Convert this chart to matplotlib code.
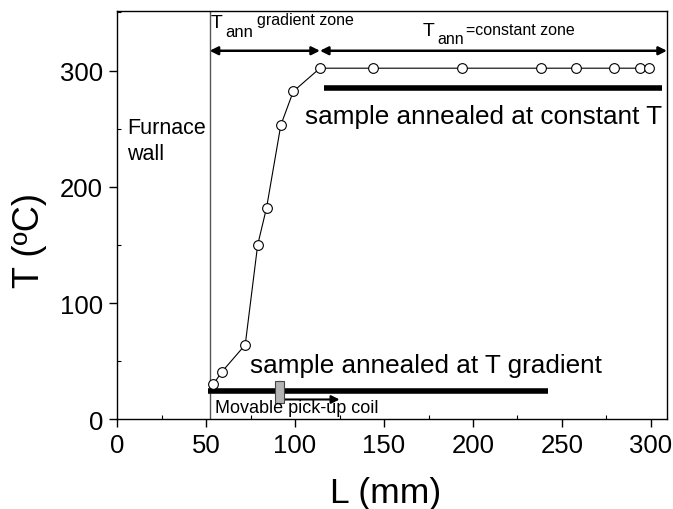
import matplotlib
matplotlib.use("Agg")
import matplotlib.pyplot as plt
from matplotlib.patches import Rectangle
from matplotlib.ticker import MultipleLocator

plt.rcParams['font.family'] = ['Liberation Sans', 'DejaVu Sans']

# temperature profile along the furnace
L_mm = [54, 59, 72, 79, 84, 92, 99, 114, 144, 194, 238, 258, 279, 294, 299]
T_c = [30, 41, 64, 150, 182, 253, 282, 302, 302, 302, 302, 302, 302, 302, 302]

# positions of annotations (mm, degC)
wall_L = 52
zone_split_L = 114
zone_end_L = 309
zone_T = 317
bar_const = (116, 306, 285)
bar_grad = (51, 242, 24)
coil = (89, 94, 14, 33)

W, H = 673, 510
fig = plt.figure(figsize=(W / 100, H / 100), dpi=100)
ax = fig.add_axes([0.174, 0.176, 0.817, 0.800])


def px(x, y):
    # figure fraction from pixel position (top-left origin)
    return x / W, 1 - y / H


ax.plot(L_mm, T_c, color='black', lw=0.8, marker='o', ms=7,
        mfc='white', mec='black', mew=0.8, zorder=3)

# furnace wall
ax.axvline(wall_L, color='#555555', lw=1.0)

# zone arrows
ax.annotate('', xy=(wall_L, zone_T), xytext=(zone_split_L, zone_T),
            arrowprops=dict(arrowstyle='<|-|>', color='black', lw=1.8,
                            mutation_scale=12, shrinkA=0, shrinkB=0))
ax.annotate('', xy=(zone_split_L, zone_T), xytext=(zone_end_L, zone_T),
            arrowprops=dict(arrowstyle='<|-|>', color='black', lw=1.8,
                            mutation_scale=12, shrinkA=0, shrinkB=0),
            annotation_clip=False)

# samples
ax.plot(bar_const[:2], [bar_const[2]] * 2, color='black', lw=4, solid_capstyle='butt')
ax.plot(bar_grad[:2], [bar_grad[2]] * 2, color='black', lw=4, solid_capstyle='butt')

# pick-up coil
ax.add_patch(Rectangle((coil[0], coil[2]), coil[1] - coil[0], coil[3] - coil[2],
                       facecolor='#b4b4b4', edgecolor='#444444', lw=0.8, zorder=4))
ax.annotate('', xy=(125, 17), xytext=(coil[1], 17),
            arrowprops=dict(arrowstyle='-|>', color='black', lw=1.5,
                            mutation_scale=12, shrinkA=0, shrinkB=0))

# zone labels, pieced together
fig.text(*px(211, 28), 'T', fontsize=14, va='baseline', ha='left')
fig.text(*px(225, 37), 'ann', fontsize=12, va='baseline', ha='left')
fig.text(*px(257, 25), 'gradient zone', fontsize=11.5, va='baseline', ha='left')
fig.text(*px(423, 36), 'T', fontsize=14, va='baseline', ha='left')
fig.text(*px(437, 44), 'ann', fontsize=11.5, va='baseline', ha='left')
fig.text(*px(466, 35), '=constant zone', fontsize=11.5, va='baseline', ha='left')

fig.text(*px(127, 134), 'Furnace', fontsize=15.5, va='baseline', ha='left')
fig.text(*px(127, 160), 'wall', fontsize=15.5, va='baseline', ha='left')
ax.text(105.5, 261, 'sample annealed at constant T', fontsize=18.8, va='center', ha='left')
ax.text(74.5, 47, 'sample annealed at T gradient', fontsize=18.8, va='center', ha='left')
fig.text(*px(215, 413), 'Movable pick-up coil', fontsize=13, va='baseline', ha='left')

ax.set_xlim(0, 309)
ax.set_ylim(0, 351)
ax.xaxis.set_major_locator(MultipleLocator(50))
ax.xaxis.set_minor_locator(MultipleLocator(25))
ax.yaxis.set_major_locator(MultipleLocator(100))
ax.yaxis.set_minor_locator(MultipleLocator(50))
ax.tick_params(which='major', direction='out', length=6, width=1, labelsize=18.5, pad=4)
ax.tick_params(which='minor', direction='in', length=3, width=0.8)
for s in ax.spines.values():
    s.set_linewidth(1.0)

ax.set_xlabel('L (mm)', fontsize=25.5)
ax.set_ylabel('T (ºC)', fontsize=26)
ax.xaxis.set_label_coords(0.489, -0.14)
ax.yaxis.set_label_coords(-0.128, 0.44)

fig.savefig('out.png', dpi=100)
